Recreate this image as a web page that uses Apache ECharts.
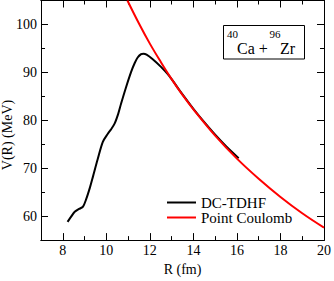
<!DOCTYPE html>
<html>
<head>
<meta charset="utf-8">
<script src="https://cdn.jsdelivr.net/npm/echarts@6/dist/echarts.min.js"></script>
</head>
<body style="margin:0;background:#fff">
<div id="c" style="width:334px;height:281px"></div>
<script>
// DC-TDHF potential
var tdhfR = [8.22, 8.4, 8.55, 8.75, 8.93, 9.08, 9.25, 9.39, 9.6, 9.84, 10.07, 10.2, 10.38, 10.55, 10.68, 10.9, 11.14, 11.3, 11.44, 11.6, 11.71, 11.85, 12.12, 12.5, 12.88, 13.5, 14, 14.5, 15, 15.5, 16.08];
var tdhfV = [58.8, 60.0, 60.9, 61.5, 62.0, 63.6, 66.0, 68.3, 71.8, 75.5, 77.2, 78.0, 79.3, 81.4, 83.5, 86.8, 90.1, 91.9, 93.1, 93.8, 93.9, 93.7, 92.8, 91.2, 89.3, 85.4, 82.4, 79.6, 77.0, 74.6, 72.1];
// Point Coulomb
var coulR = [10.97, 11.5, 12, 12.5, 13, 13.5, 14, 15, 16, 17, 18, 19, 20];
var coulV = [105.0, 100.2, 96.0, 92.2, 88.6, 85.3, 82.3, 76.8, 72.0, 67.8, 64.0, 60.6, 57.6];
// ticks
var xMajor = [8, 10, 12, 14, 16, 18, 20];
var xMinor = [9, 11, 13, 15, 17, 19];
var yMajor = [60, 70, 80, 90, 100];
var yMinor = [65, 75, 85, 95];

function pairs(a, b) { return a.map(function (v, i) { return [v, b[i]]; }); }

function xAx(pos, ticks, len, labels) {
  return {
    type: 'value', min: 7, max: 20, position: pos,
    axisLine: { show: true, lineStyle: { color: '#000', width: 1 } },
    axisTick: { show: true, inside: true, length: len, customValues: ticks, lineStyle: { color: '#000', width: 1 } },
    axisLabel: labels ? { show: true, customValues: ticks, fontFamily: 'Liberation Serif', fontSize: 14, color: '#000', margin: 3 } : { show: false },
    splitLine: { show: false }
  };
}
function yAx(pos, ticks, len, labels) {
  return {
    type: 'value', min: 55, max: 105, position: pos,
    axisLine: { show: true, lineStyle: { color: '#000', width: 1 } },
    axisTick: { show: true, inside: true, length: len, customValues: ticks, lineStyle: { color: '#000', width: 1 } },
    axisLabel: labels ? { show: true, customValues: ticks, fontFamily: 'Liberation Serif', fontSize: 14, color: '#000', margin: 4 } : { show: false },
    splitLine: { show: false }
  };
}

var xa0 = xAx('bottom', xMajor, 7, true);
xa0.name = 'R (fm)';
xa0.nameLocation = 'middle';
xa0.nameGap = 20;
xa0.nameTextStyle = { fontFamily: 'Liberation Serif', fontSize: 14, color: '#000' };

var lineIcon = 'path://M0,0 L29,0 L29,2 L0,2 Z';

var chart = echarts.init(document.getElementById('c'), null, { renderer: 'svg' });
chart.setOption({
  textStyle: { fontFamily: 'Liberation Serif' },
  grid: { left: 41, right: 8, top: 0.5, bottom: 31 },
  xAxis: [xa0, xAx('bottom', xMinor, 4, false), xAx('top', xMajor, 7, false), xAx('top', xMinor, 4, false)],
  yAxis: [yAx('left', yMajor, 7, true), yAx('left', yMinor, 4, false), yAx('right', yMajor, 7, false), yAx('right', yMinor, 4, false)],
  legend: {
    orient: 'vertical', left: 167, top: 195, padding: 0, itemWidth: 29, itemHeight: 14, itemGap: 0,
    textStyle: { fontFamily: 'Liberation Serif', fontSize: 15, color: '#000' },
    data: [{ name: 'DC-TDHF', icon: lineIcon }, { name: 'Point Coulomb', icon: lineIcon }]
  },
  series: [
    { name: 'DC-TDHF', type: 'line', data: pairs(tdhfR, tdhfV), smooth: 0.3, symbol: 'none',
      lineStyle: { color: '#000', width: 2 }, itemStyle: { color: '#000' }, z: 3 },
    { name: 'Point Coulomb', type: 'line', data: pairs(coulR, coulV), smooth: 0.4, symbol: 'none',
      lineStyle: { color: '#ff0000', width: 2 }, itemStyle: { color: '#ff0000' }, z: 4 }
  ],
  graphic: [
    { type: 'text', x: 7, y: 135, rotation: Math.PI / 2,
      style: { text: 'V(R) (MeV)', fontFamily: 'Liberation Serif', fontSize: 14, fill: '#000', align: 'center', verticalAlign: 'middle' } },
    { type: 'rect', shape: { x: 223.5, y: 25.5, width: 81, height: 33.5 },
      style: { fill: '#fff', stroke: '#000', lineWidth: 1 } },
    { type: 'text', x: 227, y: 28.2, style: { text: '40', fontFamily: 'Liberation Serif', fontSize: 11, fill: '#000', align: 'left', verticalAlign: 'top' } },
    { type: 'text', x: 237, y: 56, style: { text: 'Ca +', fontFamily: 'Liberation Serif', fontSize: 16, fill: '#000', align: 'left', verticalAlign: 'bottom' } },
    { type: 'text', x: 269.5, y: 28.2, style: { text: '96', fontFamily: 'Liberation Serif', fontSize: 11, fill: '#000', align: 'left', verticalAlign: 'top' } },
    { type: 'text', x: 280, y: 56, style: { text: 'Zr', fontFamily: 'Liberation Serif', fontSize: 16, fill: '#000', align: 'left', verticalAlign: 'bottom' } }
  ]
});
</script>
</body>
</html>
